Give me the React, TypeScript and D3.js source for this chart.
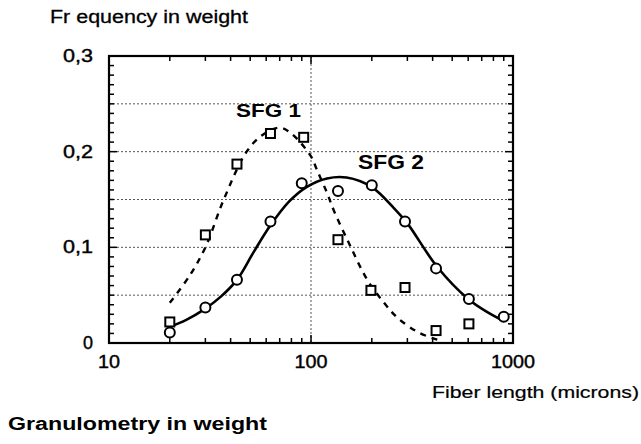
import React from "react";
import * as d3 from "d3";

const sfg1X = [20, 30, 43, 63, 92, 136, 198, 292, 416, 605];
const sfg1Y = [0.022, 0.113, 0.187, 0.219, 0.215, 0.108, 0.055, 0.058, 0.013, 0.02];

const sfg2X = [20, 30, 43, 63, 90, 136, 200, 292, 416, 605, 900];
const sfg2Y = [0.011, 0.037, 0.066, 0.127, 0.167, 0.159, 0.165, 0.127, 0.078, 0.046, 0.0275];

const fit1X = [20, 25, 30, 37, 48, 58, 70, 80, 100, 107, 120, 130, 156, 190, 230, 266, 334, 400, 430];
const fit1Y = [0.042, 0.07, 0.1, 0.15, 0.2, 0.218, 0.225, 0.219, 0.195, 0.181, 0.157, 0.138, 0.102, 0.066, 0.042, 0.027, 0.012, 0.005, 0.003];

const fit2X = [20, 24, 30, 36, 43, 52, 63, 78, 95, 120, 150, 200, 260, 300, 420, 600, 750, 900];
const fit2Y = [0.017, 0.024, 0.036, 0.049, 0.066, 0.095, 0.123, 0.148, 0.163, 0.172, 0.173, 0.163, 0.14, 0.125, 0.08, 0.046, 0.032, 0.023];

const yTicks = [0, 0.1, 0.2, 0.3];
const yTickLabels = ["0", "0,1", "0,2", "0,3"];
const xTicks = [10, 100, 1000];
const xTickLabels = ["10", "100", "1000"];
const yGrid = [0.05, 0.1, 0.15, 0.2, 0.25];
const xGrid = [100];

const L = 109, R = 513, T = 56, B = 343;

export default function App() {
  const x = d3.scaleLog().domain([10, 1000]).range([L, R]);
  const y = d3.scaleLinear().domain([0, 0.3]).range([B, T]);
  const font = "'Liberation Sans', Arial, Helvetica, sans-serif";

  const line = d3
    .line<[number, number]>()
    .x((d) => x(d[0]))
    .y((d) => y(d[1]))
    .curve(d3.curveCatmullRom.alpha(0.5));

  const fit1 = fit1X.map((v, i) => [v, fit1Y[i]] as [number, number]);
  const fit2 = fit2X.map((v, i) => [v, fit2Y[i]] as [number, number]);

  const yMinor = d3.range(0, 31).map((i) => i / 100);
  const xMinor: number[] = [];
  [10, 100].forEach((b) => {
    for (let k = 2; k <= 9; k++) xMinor.push(b * k);
  });

  const yLabelW = [10, 30, 30, 30];
  const xLabelW = [22, 33, 44];

  return (
    <svg
      width={641}
      height={444}
      style={{ position: "absolute", left: 0, top: 0, background: "#fff" }}
      fontFamily={font}
    >
      <rect x={0} y={0} width={641} height={444} fill="#fff" />
      {yGrid.map((g) => (
        <line key={"gy" + g} x1={L} x2={R} y1={y(g)} y2={y(g)} stroke="#555" strokeWidth={1} strokeDasharray="2,2" />
      ))}
      {xGrid.map((g) => (
        <line key={"gx" + g} x1={x(g)} x2={x(g)} y1={T} y2={B} stroke="#555" strokeWidth={1} strokeDasharray="2,2" />
      ))}
      {yMinor.map((v) => {
        const len = Math.abs(v * 10 - Math.round(v * 10)) < 1e-6 ? 8 : 5;
        return (
          <g key={"ym" + v}>
            <line x1={L} x2={L + len} y1={y(v)} y2={y(v)} stroke="#000" strokeWidth={1.5} />
            <line x1={R} x2={R - len} y1={y(v)} y2={y(v)} stroke="#000" strokeWidth={1.5} />
          </g>
        );
      })}
      {xMinor.map((v) => (
        <g key={"xm" + v}>
          <line x1={x(v)} x2={x(v)} y1={B} y2={B - 5} stroke="#000" strokeWidth={1.5} />
          <line x1={x(v)} x2={x(v)} y1={T} y2={T + 5} stroke="#000" strokeWidth={1.5} />
        </g>
      ))}
      {xTicks.map((v) => (
        <g key={"xM" + v}>
          <line x1={x(v)} x2={x(v)} y1={B} y2={B - 8} stroke="#000" strokeWidth={1.5} />
          <line x1={x(v)} x2={x(v)} y1={T} y2={T + 8} stroke="#000" strokeWidth={1.5} />
        </g>
      ))}
      <rect x={L} y={T} width={R - L} height={B - T} fill="none" stroke="#000" strokeWidth={2.2} />
      <path d={line(fit1) || ""} fill="none" stroke="#000" strokeWidth={2.4} strokeDasharray="6,6" />
      <path d={line(fit2) || ""} fill="none" stroke="#000" strokeWidth={2.6} />
      {sfg1X.map((v, i) => (
        <rect key={"s" + i} x={x(v) - 4.5} y={y(sfg1Y[i]) - 4.5} width={9} height={9} fill="#fff" stroke="#000" strokeWidth={2} />
      ))}
      {sfg2X.map((v, i) => (
        <circle key={"c" + i} cx={x(v)} cy={y(sfg2Y[i])} r={5} fill="#fff" stroke="#000" strokeWidth={2} />
      ))}
      <text x={236} y={117} fontSize={19} fontWeight="bold" textLength={65} lengthAdjust="spacingAndGlyphs">SFG 1</text>
      <text x={358} y={169} fontSize={20} fontWeight="bold" textLength={66} lengthAdjust="spacingAndGlyphs">SFG 2</text>
      {yTicks.map((v, i) => (
        <text key={"yl" + v} x={93 - yLabelW[i]} y={y(v)} fontSize={18} dominantBaseline="central" stroke="#000" strokeWidth={0.4} textLength={yLabelW[i]} lengthAdjust="spacingAndGlyphs">
          {yTickLabels[i]}
        </text>
      ))}
      {xTicks.map((v, i) => (
        <text key={"xl" + v} x={x(v) - xLabelW[i] / 2} y={368} fontSize={18} stroke="#000" strokeWidth={0.4} textLength={xLabelW[i]} lengthAdjust="spacingAndGlyphs">
          {xTickLabels[i]}
        </text>
      ))}
      <text x={50} y={22.5} fontSize={17.5} stroke="#000" strokeWidth={0.3} textLength={198} lengthAdjust="spacingAndGlyphs">Fr equency in weight</text>
      <text x={432} y={398} fontSize={17} stroke="#000" strokeWidth={0.2} textLength={207} lengthAdjust="spacingAndGlyphs">Fiber length (microns)</text>
      <text x={8} y={430} fontSize={18} fontWeight="bold" textLength={259} lengthAdjust="spacingAndGlyphs">Granulometry in weight</text>
    </svg>
  );
}
